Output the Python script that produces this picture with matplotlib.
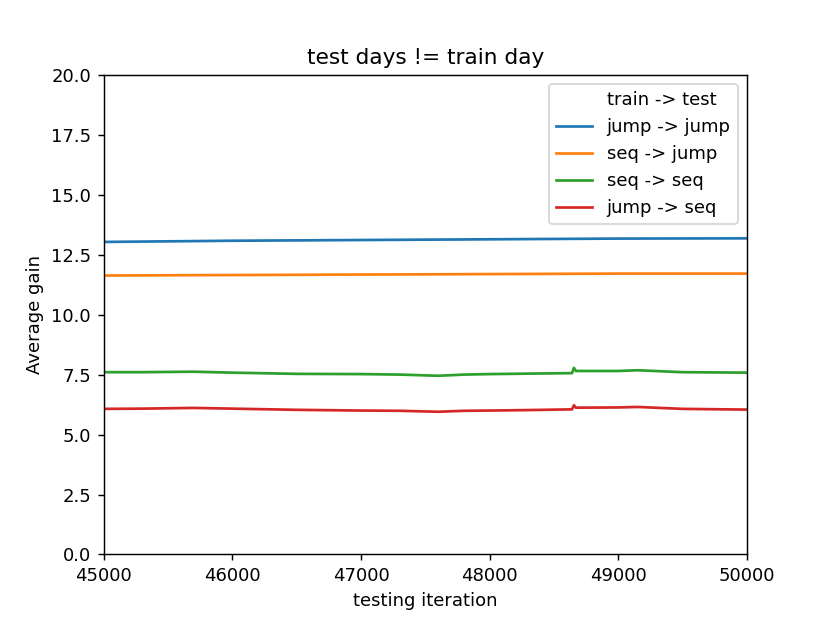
import numpy as np
from matplotlib import pyplot as plt

iters_flat = [45000, 46000, 47000, 48000, 49000, 50000]
jump_jump = [13.03, 13.08, 13.11, 13.14, 13.17, 13.18]
seq_jump = [11.63, 11.65, 11.67, 11.69, 11.71, 11.71]

iters_wavy = [45000, 45300, 45700, 46000, 46500, 47000, 47300, 47600, 47800,
              48000, 48300, 48640, 48655, 48670, 49000, 49150, 49500, 50000]
seq_seq = [7.60, 7.60, 7.62, 7.58, 7.53, 7.52, 7.50, 7.45, 7.50,
           7.52, 7.54, 7.56, 7.78, 7.65, 7.65, 7.68, 7.60, 7.58]
jump_seq = [6.07, 6.08, 6.11, 6.08, 6.03, 6.00, 5.99, 5.95, 5.99,
            6.00, 6.02, 6.05, 6.22, 6.12, 6.13, 6.15, 6.07, 6.04]

# original looks like a default 6.4x4.8 figure saved at ~130 dpi
fig = plt.figure(figsize=(830 / 130, 623 / 130), dpi=130)
ax = plt.gca()
ax.plot([], [], ' ', label='train -> test')
ax.plot(iters_flat, jump_jump, color='C0', label='jump -> jump')
ax.plot(iters_flat, seq_jump, color='C1', label='seq -> jump')
ax.plot(iters_wavy, seq_seq, color='C2', label='seq -> seq')
ax.plot(iters_wavy, jump_seq, color='C3', label='jump -> seq')
ax.set_xlim(45000, 50000)
ax.set_ylim(0, 20)
ax.set_title('test days != train day')
ax.set_xlabel('testing iteration')
ax.set_ylabel('Average gain')
ax.legend(loc='upper right')
plt.savefig('out.png', dpi=130)
